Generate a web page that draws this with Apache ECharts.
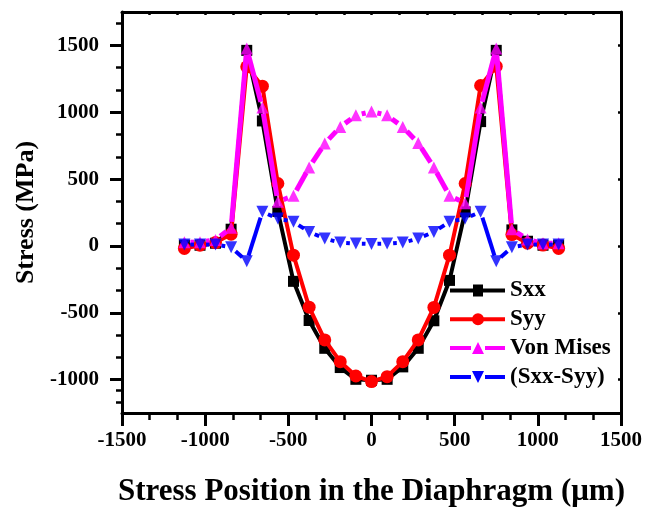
<!DOCTYPE html>
<html>
<head>
<meta charset="utf-8">
<script src="https://cdn.jsdelivr.net/npm/echarts@6/dist/echarts.min.js"></script>
<style>
  html, body { margin: 0; padding: 0; background: #fff; }
  #chart { width: 657px; height: 507px; }
</style>
</head>
<body>
<div id="chart"></div>
<script>
// Positions along the diaphragm (µm)
const positions = [-1125, -1031, -938, -844, -750, -656, -563, -469, -375, -281, -188, -94, 0,
                   94, 188, 281, 375, 469, 563, 656, 750, 844, 938, 1031, 1125];
// Stress components (MPa)
const sxx = [5, 5, 20, 125, 1463, 935, 258, -265, -558, -766, -910, -998, -1005,
             -998, -905, -766, -560, -258, 255, 930, 1463, 120, 35, 5, 5];
const syy = [-19, 5, 25, 88, 1340, 1195, 467, -69, -458, -703, -866, -973, -1015,
             -978, -866, -703, -460, -69, 467, 1200, 1343, 85, 20, 6, -19];
const vonMises = [28, 28, 45, 135, 1476, 1035, 330, 375, 587, 766, 890, 977, 1005,
                  977, 890, 770, 587, 375, 320, 1035, 1476, 125, 48, 20, 20];
const sxxMinusSyy = [10, 10, 10, -10, -115, 255, 205, 180, 105, 55, 25, 18, 15,
                     18, 25, 55, 105, 180, 205, 255, -115, -10, 10, 10, 10];

const yTicks = [-1000, -500, 0, 500, 1000, 1500];
const yMinorTicks = [-1166.67, -1083.33, -833.33, -666.67, -333.33, -166.67, 166.67, 333.33,
                     666.67, 833.33, 1166.67, 1333.33, 1666.67];

const FONT = "'Liberation Serif', 'Times New Roman', serif";

const pairs = (ys) => positions.map((x, i) => [x, ys[i]]);
const segments = (ys) => {
  const out = [];
  for (let i = 0; i < positions.length - 1; i++) {
    out.push([positions[i], ys[i], positions[i + 1], ys[i + 1]]);
  }
  return out;
};

// line segments that stop short of each symbol
function gapLine(color, width, gap) {
  return function (params, api) {
    const p0 = api.coord([api.value(0), api.value(1)]);
    const p1 = api.coord([api.value(2), api.value(3)]);
    const dx = p1[0] - p0[0], dy = p1[1] - p0[1];
    const len = Math.hypot(dx, dy);
    if (len <= 2 * gap) return null;
    const ux = dx / len, uy = dy / len;
    return {
      type: 'line',
      shape: { x1: p0[0] + ux * gap, y1: p0[1] + uy * gap, x2: p1[0] - ux * gap, y2: p1[1] - uy * gap },
      style: { stroke: color, lineWidth: width, lineCap: 'butt' }
    };
  };
}

const chart = echarts.init(document.getElementById('chart'), null, { renderer: 'canvas' });

const labelStyle = { color: '#000', fontFamily: FONT, fontWeight: 'bold', fontSize: 21 };

const option = {
  backgroundColor: '#fff',
  animation: false,
  grid: { left: 122, right: 36, top: 12, bottom: 94, outerBoundsMode: 'none', containLabel: false },
  legend: {
    orient: 'vertical',
    left: 450,
    top: 279,
    padding: 0,
    itemWidth: 55,
    itemHeight: 12,
    itemGap: 5.8,
    selectedMode: false,
    textStyle: { color: '#000', fontFamily: FONT, fontWeight: 'bold', fontSize: 23, lineHeight: 23 },
    data: [
      { name: 'Sxx', icon: 'path://M0,4H55V8H0Z M23,0H33V12H23Z' },
      { name: 'Syy', icon: 'path://M0,4H55V8H0Z M28,0A6,6 0 1,1 28,12A6,6 0 1,1 28,0Z' },
      { name: 'Von Mises', icon: 'path://M0,4H21V8H0Z M35,4H55V8H35Z M28,0L34,12H22Z' },
      { name: '(Sxx-Syy)', icon: 'path://M0,4H21V8H0Z M35,4H55V8H35Z M22,0H34L28,12Z' }
    ]
  },
  xAxis: [
    {
      type: 'value', position: 'bottom', min: -1500, max: 1500, interval: 500,
      name: 'Stress Position in the Diaphragm (\u03bcm)',
      nameLocation: 'middle', nameGap: 63,
      nameTextStyle: { color: '#000', fontFamily: FONT, fontWeight: 'bold', fontSize: 31 },
      axisLine: { show: true, onZero: false, lineStyle: { color: '#000', width: 3 } },
      axisTick: { show: true, inside: false, length: 13, lineStyle: { color: '#000', width: 3 } },
      minorTick: { show: true, splitNumber: 3, length: 7, lineStyle: { color: '#000', width: 2.5 } },
      axisLabel: Object.assign({ margin: 17, formatter: (v) => String(v) }, labelStyle),
      splitLine: { show: false }
    },
    {
      type: 'value', position: 'top', min: -1500, max: 1500, interval: 500,
      axisLine: { show: true, onZero: false, lineStyle: { color: '#000', width: 3 } },
      axisTick: { show: true, inside: true, length: 3, lineStyle: { color: '#000', width: 2.5 } },
      minorTick: { show: true, splitNumber: 3, length: 3, lineStyle: { color: '#000', width: 2.5 } },
      axisLabel: { show: false },
      splitLine: { show: false }
    }
  ],
  yAxis: [
    {
      type: 'value', position: 'left', min: -1250, max: 1750,
      name: 'Stress (MPa)', nameLocation: 'middle', nameGap: 78, nameRotate: 90,
      nameTextStyle: { color: '#000', fontFamily: FONT, fontWeight: 'bold', fontSize: 26 },
      axisLine: { show: true, onZero: false, lineStyle: { color: '#000', width: 3 } },
      axisTick: { show: true, inside: false, length: 12, customValues: yTicks, lineStyle: { color: '#000', width: 3 } },
      axisLabel: Object.assign({ margin: 23, customValues: yTicks, formatter: (v) => String(v) }, labelStyle),
      splitLine: { show: false }
    },
    {
      type: 'value', position: 'left', min: -1250, max: 1750,
      axisLine: { show: false, onZero: false },
      axisTick: { show: true, inside: false, length: 6, customValues: yMinorTicks, lineStyle: { color: '#000', width: 2.5 } },
      axisLabel: { show: false },
      splitLine: { show: false }
    },
    {
      type: 'value', position: 'right', min: -1250, max: 1750,
      axisLine: { show: true, onZero: false, lineStyle: { color: '#000', width: 3 } },
      axisTick: { show: true, inside: true, length: 3, customValues: yTicks, lineStyle: { color: '#000', width: 2.5 } },
      axisLabel: { show: false },
      splitLine: { show: false }
    }
  ],
  series: [
    {
      name: 'Sxx', type: 'line', data: pairs(sxx),
      symbol: 'rect', symbolSize: 11, showAllSymbol: true,
      itemStyle: { color: '#000' }, lineStyle: { color: '#000', width: 4 }, z: 2
    },
    {
      name: 'Syy', type: 'line', data: pairs(syy),
      symbol: 'circle', symbolSize: 13, showAllSymbol: true,
      itemStyle: { color: '#ff0000' }, lineStyle: { color: '#ff0000', width: 4 }, z: 3
    },
    {
      name: 'Von Mises', type: 'custom', data: segments(vonMises),
      encode: { x: [0, 2], y: [1, 3] },
      itemStyle: { color: '#ff00ff' },
      renderItem: gapLine('#ff00ff', 5, 6), z: 4
    },
    {
      name: 'Von Mises', type: 'scatter', data: pairs(vonMises),
      symbol: 'triangle', symbolSize: 12,
      itemStyle: { color: '#ff00ff' }, z: 4
    },
    {
      name: '(Sxx-Syy)', type: 'custom', data: segments(sxxMinusSyy),
      encode: { x: [0, 2], y: [1, 3] },
      itemStyle: { color: '#0000ff' },
      renderItem: gapLine('#0000ff', 4, 6), z: 5
    },
    {
      name: '(Sxx-Syy)', type: 'scatter', data: pairs(sxxMinusSyy),
      symbol: 'triangle', symbolRotate: 180, symbolSize: 12,
      itemStyle: { color: '#0000ff' }, z: 5
    }
  ]
};

chart.setOption(option);
</script>
</body>
</html>
